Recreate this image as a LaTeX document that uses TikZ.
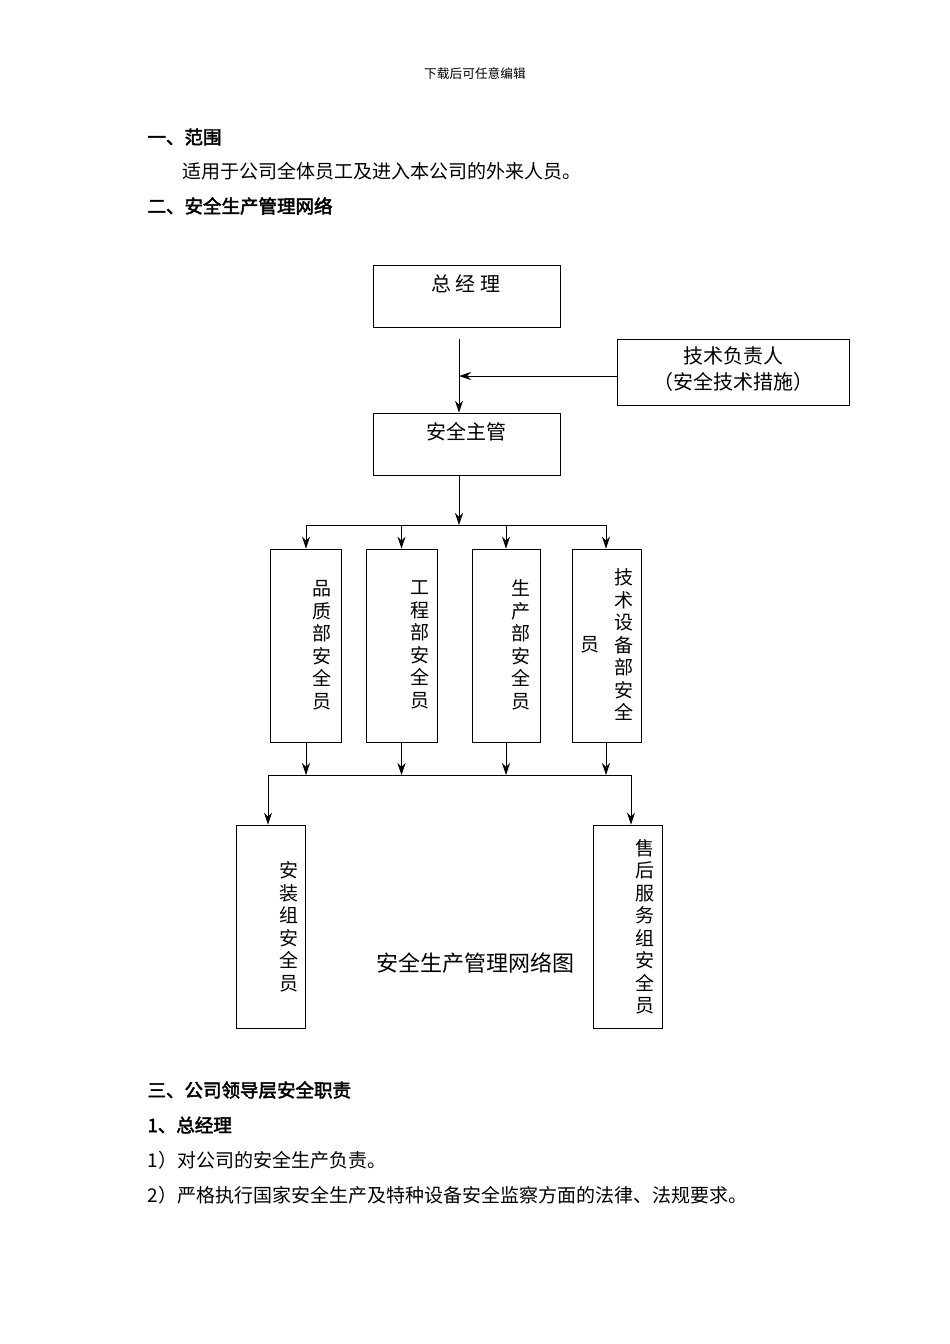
\documentclass[tikz,border=0pt]{standalone}
\usepackage{fontspec}
\newfontfamily\cjk{Noto Sans CJK SC}[AutoFakeBold=2.5]
\usetikzlibrary{positioning,arrows.meta}
\begin{document}
\begin{tikzpicture}[x=1pt,y=-1pt,font=\cjk,
    box/.style={draw,thick,inner sep=0pt},
    col/.style={align=center,font=\cjk\fontsize{19}{22.5}\selectfont},
    body/.style={anchor=west,font=\cjk\fontsize{19}{22}\selectfont},
    head/.style={anchor=west,font=\cjk\bfseries\fontsize{18.5}{22}\selectfont}]
    \useasboundingbox (0,0) rectangle (950,1344);
    % page text
    \node (hdr) at (475,74) {\fontsize{12.7}{15}\selectfont 下载后可任意编辑};
    \node[head] (h1) at (144,137) {一、范围};
    \node[body] (t1) at (179,171) {适用于公司全体员工及进入本公司的外来人员。};
    \node[head] (h2) at (144,206) {二、安全生产管理网络};
    % boxes
    \begin{scope}[every node/.style={box}]
        \node (gm) [minimum width=187,minimum height=62] at (466.5,296) {};
        \node (tech) [minimum width=232,minimum height=66] at (733,372) {};
        \node (sup) [minimum width=187,minimum height=62] at (466.5,444) {};
        \node (b1) [minimum width=71,minimum height=193] at (305.5,645.5) {};
        \node (b2) [minimum width=71,minimum height=193] at (401.5,645.5) {};
        \node (b3) [minimum width=68,minimum height=193] at (506,645.5) {};
        \node (b4) [minimum width=69,minimum height=193] at (606.5,645.5) {};
        \node (b5) [minimum width=69,minimum height=203] at (270.5,926.5) {};
        \node (b6) [minimum width=69,minimum height=203] at (627.5,926.5) {};
    \end{scope}
    % box labels
    \node[font=\cjk\fontsize{20}{24}\selectfont] at (466,284) {总\ 经\ 理};
    \node[align=center,font=\cjk\fontsize{20}{26}\selectfont] at (733,369) {技术负责人\\（安全技术措施）};
    \node[font=\cjk\fontsize{20}{24}\selectfont] at (466,432) {安全主管};
    \node[col] at (322,645) {品\\质\\部\\安\\全\\员};
    \node[col] at (420,645) {工\\程\\部\\安\\全\\员};
    \node[col] at (521,645) {生\\产\\部\\安\\全\\员};
    \node[col] at (624,645) {技\\术\\设\\备\\部\\安\\全};
    \node[col] at (590,645) {员};
    \node[col] at (289,927) {安\\装\\组\\安\\全\\员};
    \node[col] at (645,927) {售\\后\\服\\务\\组\\安\\全\\员};
    \node (cap) [font=\cjk\fontsize{22}{26}\selectfont] at (475,963) {安全生产管理网络图};
    % connectors
    \coordinate (top) at (459,339);
    \coordinate (j1) at (459,376);
    \coordinate (j2) at (459,525);
    \coordinate (l1) at (306,525);
    \coordinate (r1) at (606,525);
    \coordinate (l2) at (268,775);
    \coordinate (r2) at (631,775);
    \begin{scope}[thick,-{Stealth[length=12pt,width=8pt]}]
        \draw[-] (top) -- (j1);
        \draw (j1) -- (sup.north -| j1);
        \draw (tech.west |- j1) -- (j1);
        \draw (sup.south -| j2) -- (j2);
        \draw[-] (l1) -- (r1);
        \draw (l1) -- (b1.north -| l1);
        \draw (l1 -| b2) -- (b2.north);
        \draw (l1 -| b3) -- (b3.north);
        \draw (r1) -- (b4.north -| r1);
        \draw (b1.south -| l1) -- (l1 |- l2);
        \draw (b2.south) -- (b2 |- l2);
        \draw (b3.south) -- (b3 |- l2);
        \draw (b4.south -| r1) -- (r1 |- l2);
        \draw[-] (l2) -- (r2);
        \draw (l2) -- (b5.north -| l2);
        \draw (r2) -- (b6.north -| r2);
    \end{scope}
    % lower text
    \node[head] (h3) at (144,1090) {三、公司领导层安全职责};
    \node[head] (h4) at (144,1125) {1、总经理};
    \node[body] (t2) at (144,1160) {1）对公司的安全生产负责。};
    \node[body] (t3) at (144,1195) {2）严格执行国家安全生产及特种设备安全监察方面的法律、法规要求。};
\end{tikzpicture}
\end{document}
